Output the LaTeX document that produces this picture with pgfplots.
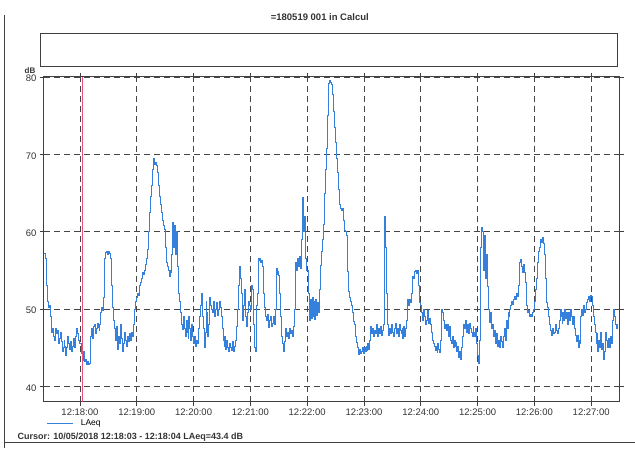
\documentclass[border=0pt]{standalone}
\usepackage{pgfplots}
\pgfplotsset{compat=1.18}
\usepackage{pgfplotstable}
\usepackage{fontspec}
\setmainfont{Liberation Sans}
\definecolor{trace}{RGB}{52,128,220}
\definecolor{cursor}{RGB}{235,80,120}
\definecolor{gridc}{RGB}{70,70,70}
\pgfplotstableread[row sep=\\]{
t L\\
-38 57.2\\ -37 56.5\\ -36 55\\ -35 53\\ -34 51\\ -33 50.2\\ -32 50.5\\ -31 49\\ -30 47\\ -29 47.5\\
-28 46.5\\ -27 46\\ -26 47.5\\ -25 46.8\\ -24 47.2\\ -23 45.5\\ -22 46.2\\ -21 47\\
-20 45.8\\ -19 44.5\\ -18 45\\ -17 46\\ -16 45.2\\ -15 44\\ -14 45\\ -13 46.5\\ -12 45.5\\ -11 44.8\\
-10 45.8\\ -9 44.5\\ -8 45.2\\ -7 46.2\\ -6 45\\ -5 46.5\\ -4 47.5\\ -3 46.8\\ -2 46\\ -1 45.5\\
0 45.5\\ 1 44.2\\ 2 45\\ 3 43.4\\ 4 44.5\\ 5 43.2\\ 6 43.5\\ 7 42.8\\ 8 43.2\\ 9 42.8\\
10 43\\ 11 46.5\\ 12 47.5\\ 13 46.2\\ 14 47.8\\ 15 48\\ 16 46.8\\ 17 47.5\\ 18 48.2\\ 19 47.6\\
20 47.2\\ 21 48\\ 22 49.5\\ 23 50.2\\ 24 49.8\\ 25 51.5\\ 26 56.5\\ 27 57.3\\ 28 57.5\\ 29 57\\
30 57.4\\ 31 57.2\\ 32 56.5\\ 33 53\\ 34 50.2\\ 35 48.5\\ 36 47.5\\ 37 46\\ 38 47.8\\ 39 45.2\\
40 44.8\\ 41 46.5\\ 42 45.5\\ 43 48\\ 44 46.2\\ 45 44.5\\ 46 45.5\\ 47 47\\ 48 46\\ 49 45.2\\
50 46.5\\ 51 45.8\\ 52 46.8\\ 53 46\\ 54 47\\ 55 46.5\\ 56 48\\ 57 50\\ 58 50.5\\ 59 51\\
60 51.5\\ 61 52\\ 62 51.8\\ 63 53\\ 64 53.5\\ 65 54\\ 66 54.7\\ 67 54.5\\ 68 55\\ 69 55.8\\
70 56.5\\ 71 57.7\\ 72 60\\ 73 62.5\\ 74 64.5\\ 75 66\\ 76 68\\ 77 68.8\\ 78 69.5\\ 79 68.7\\
80 69\\ 81 68.6\\ 82 67.6\\ 83 66\\ 84 64.5\\ 85 63.5\\ 86 62.5\\ 87 61.5\\ 88 60.8\\ 89 60.3\\
90 58\\ 91 56\\ 92 55.5\\ 93 55\\ 94 54.2\\ 95 55\\ 96 54.7\\ 97 57\\ 98 61.2\\ 99 58\\
100 60.8\\ 101 57\\ 102 60\\ 103 55.5\\ 104 52\\ 105 51\\ 106 49.5\\ 107 48\\ 108 47.4\\ 109 49\\
110 47.5\\ 111 46.5\\ 112 48.5\\ 113 47\\ 114 46.2\\ 115 49\\ 116 47.5\\ 117 46\\ 118 48\\ 119 46.5\\
120 45.5\\ 121 46.5\\ 122 45.2\\ 123 46\\ 124 45.5\\ 125 47.5\\ 126 49\\ 127 50.5\\ 128 52\\ 129 49\\
130 47.5\\ 131 45\\ 132 47\\ 133 51\\ 134 49.5\\ 135 46.5\\ 136 48\\ 137 51.5\\ 138 50.5\\ 139 50\\
140 49.5\\ 141 51\\ 142 49\\ 143 50\\ 144 50.8\\ 145 49.2\\ 146 50\\ 147 51\\ 148 50.2\\ 149 49\\
150 47.5\\ 151 46\\ 152 45.2\\ 153 46.5\\ 154 44.8\\ 155 46\\ 156 45\\ 157 44.5\\ 158 45.5\\ 159 45\\
160 44.7\\ 161 45.8\\ 162 44.5\\ 163 45.2\\ 164 46\\ 165 47.7\\ 166 50\\ 167 53\\ 168 55.5\\ 169 54\\
170 52\\ 171 50\\ 172 48.5\\ 173 50.5\\ 174 52.5\\ 175 49\\ 176 47.7\\ 177 49.5\\ 178 51\\ 179 50.5\\
180 50\\ 181 53\\ 182 52.5\\ 183 48\\ 184 45\\ 185 44.5\\ 186 50.5\\ 187 52\\ 188 56.6\\ 189 56.3\\
190 56.6\\ 191 56\\ 192 56.3\\ 193 55.5\\ 194 52\\ 195 50.2\\ 196 49\\ 197 48.5\\ 198 49.3\\ 199 47.6\\
200 48.5\\ 201 49\\ 202 47.8\\ 203 48.2\\ 204 49\\ 205 48\\ 206 50\\ 207 55.3\\ 208 54.5\\ 209 54.8\\
210 54.4\\ 211 52\\ 212 49\\ 213 46.5\\ 214 45.5\\ 215 44.5\\ 216 45.8\\ 217 47.5\\ 218 46.5\\ 219 47\\
220 46.2\\ 221 47.5\\ 222 46.8\\ 223 47.2\\ 224 46.5\\ 225 47.8\\ 226 50\\ 227 53\\ 228 56\\ 229 55\\
230 56.6\\ 231 55.5\\ 232 56.8\\ 233 55.2\\ 234 59\\ 235 64.4\\ 236 60\\ 237 62\\ 238 56.6\\ 239 55\\
240 55\\ 241 52\\ 242 48.5\\ 243 51.2\\ 244 48.8\\ 245 51.5\\ 246 49\\ 247 51\\ 248 48.6\\ 249 51.3\\
250 49.2\\ 251 50.8\\ 252 49.5\\ 253 52.5\\ 254 55.7\\ 255 57.5\\ 256 59\\ 257 60.9\\ 258 65\\ 259 68\\
260 70.8\\ 261 75\\ 262 79.2\\ 263 79.5\\ 264 79.5\\ 265 79.3\\ 266 79\\ 267 77.7\\ 268 75.5\\ 269 73.5\\
270 71.6\\ 271 69.5\\ 272 67.7\\ 273 65.5\\ 274 63.5\\ 275 63\\ 276 62.8\\ 277 63\\ 278 61.5\\ 279 60.2\\
280 60\\ 281 59.5\\ 282 54.8\\ 283 53.5\\ 284 52.3\\ 285 51.5\\ 286 51\\ 287 50.5\\ 288 49.5\\ 289 48.4\\
290 48\\ 291 46.5\\ 292 45.7\\ 293 45\\ 294 44.1\\ 295 44.8\\ 296 44.3\\ 297 44.5\\ 298 45\\ 299 44.2\\
300 45\\ 301 44.5\\ 302 45.2\\ 303 44.6\\ 304 45.5\\ 305 44.8\\ 306 46\\ 307 47.7\\ 308 46.8\\ 309 47.5\\
310 46.5\\ 311 47.2\\ 312 46.8\\ 313 48\\ 314 46.5\\ 315 47.5\\ 316 46.8\\ 317 47.8\\ 318 46.6\\ 319 47.2\\
320 48\\ 321 48.5\\ 322 62\\ 323 58\\ 324 52\\ 325 48\\ 326 46.6\\ 327 47.5\\ 328 46.8\\ 329 48\\
330 47\\ 331 46.5\\ 332 47.5\\ 333 48.2\\ 334 46.8\\ 335 47.5\\ 336 46.5\\ 337 48\\ 338 47.2\\ 339 46.8\\
340 47.5\\ 341 46.2\\ 342 47.8\\ 343 46.5\\ 344 47.5\\ 345 48.5\\ 346 51.2\\ 347 50.5\\ 348 51.2\\ 349 50.8\\
350 52\\ 351 54.2\\ 352 54\\ 353 54.8\\ 354 55\\ 355 54.6\\ 356 55\\ 357 53\\ 358 51\\ 359 50.8\\
360 50.5\\ 361 49.5\\ 362 48.5\\ 363 50\\ 364 49\\ 365 48\\ 366 48.5\\ 367 49.8\\ 368 48.2\\ 369 48.8\\
370 48\\ 371 47\\ 372 46\\ 373 45.5\\ 374 45.2\\ 375 44.6\\ 376 45.2\\ 377 44.4\\ 378 45.5\\ 379 44.8\\
380 44.4\\ 381 46\\ 382 50\\ 383 49.5\\ 384 48.5\\ 385 47.5\\ 386 48\\ 387 47.2\\ 388 48\\ 389 46.5\\
390 47.8\\ 391 46\\ 392 45.5\\ 393 46.5\\ 394 45\\ 395 46\\ 396 45.2\\ 397 45.7\\ 398 44.5\\ 399 45.2\\
400 43.8\\ 401 44.5\\ 402 43.5\\ 403 45\\ 404 46.5\\ 405 48\\ 406 47.5\\ 407 48.5\\ 408 47\\ 409 48\\
410 46.8\\ 411 48.2\\ 412 47.5\\ 413 47\\ 414 46.5\\ 415 47.8\\ 416 47\\ 417 46.5\\ 418 47.5\\ 419 45.5\\
420 44\\ 421 43\\ 422 46\\ 423 58\\ 424 60.6\\ 425 60\\ 426 55\\ 427 59.5\\ 428 54\\ 429 57\\
430 52.9\\ 431 50\\ 432 48.3\\ 433 49.5\\ 434 48.5\\ 435 47.5\\ 436 48\\ 437 46.5\\ 438 47.2\\ 439 45.5\\
440 46.8\\ 441 45.2\\ 442 46\\ 443 45\\ 444 46.5\\ 445 45.8\\ 446 45\\ 447 46.5\\ 448 47.5\\ 449 46\\
450 48.5\\ 451 47.5\\ 452 49.5\\ 453 49\\ 454 50\\ 455 50.5\\ 456 51\\ 457 50.6\\ 458 51.2\\ 459 51.6\\
460 51.3\\ 461 52\\ 462 51.6\\ 463 53\\ 464 56\\ 465 56.4\\ 466 55.5\\ 467 54.7\\ 468 55.8\\ 469 54.7\\
470 53.5\\ 471 51.2\\ 472 50.5\\ 473 49.5\\ 474 49.8\\ 475 49\\ 476 49.3\\ 477 49\\ 478 49.5\\ 479 50\\
480 51\\ 481 52.5\\ 482 54\\ 483 56\\ 484 57.5\\ 485 58\\ 486 59\\ 487 58.6\\ 488 59.2\\ 489 58.5\\
490 57.7\\ 491 57\\ 492 54\\ 493 50.8\\ 494 50.2\\ 495 49\\ 496 48\\ 497 47.2\\ 498 46.6\\ 499 47.5\\
500 46.8\\ 501 47\\ 502 48\\ 503 47.2\\ 504 46.8\\ 505 47.5\\ 506 48.5\\ 507 50\\ 508 49\\ 509 48.2\\
510 49.5\\ 511 48.5\\ 512 50\\ 513 48.8\\ 514 49.5\\ 515 48\\ 516 49.5\\ 517 48.5\\ 518 50\\ 519 49\\
520 48\\ 521 49\\ 522 47.5\\ 523 46.6\\ 524 45.8\\ 525 46.6\\ 526 45\\ 527 46\\ 528 45.5\\ 529 49\\
530 50\\ 531 49.2\\ 532 50.5\\ 533 49.5\\ 534 50\\ 535 50.8\\ 536 51.2\\ 537 51.6\\ 538 51\\ 539 51.8\\
540 51.6\\ 541 50.5\\ 542 49\\ 543 48\\ 544 47\\ 545 45.5\\ 546 46.8\\ 547 44.5\\ 548 46\\ 549 45\\
550 47\\ 551 44.8\\ 552 45.5\\ 553 43.5\\ 554 44.5\\ 555 47\\ 556 46\\ 557 45\\ 558 46.2\\ 559 45\\
560 46.5\\ 561 45.5\\ 562 48.5\\ 563 50\\ 564 49\\ 565 48.5\\ 566 48\\ 567 47.5\\ 568 48\\
}\laeq
\begin{document}
\begin{tikzpicture}[x=1pt,y=1pt]
\path (0,0) rectangle (635,448);
% page border of the scan
\draw[black!75, line width=1pt] (5,433) -- (5,0);
\draw[black!75, line width=0.8pt] (5,5) -- (635,5);
% title and empty header box
\node[font=\fontsize{9.5}{11}\selectfont\bfseries, text=black!80] at (320,431) {=180519 001 in Calcul};
\draw[black!75, line width=1pt] (41,381) rectangle (618,414);
\node[font=\fontsize{8}{9}\selectfont\bfseries, text=black!80] at (30,377) {dB};
\begin{axis}[
  at={(44pt,46pt)}, anchor=south west,
  scale only axis, width=576pt, height=325pt,
  xmin=-38, xmax=570, ymin=38, ymax=80,
  xtick={0,60,120,180,240,300,360,420,480,540},
  xticklabels={12:18:00,12:19:00,12:20:00,12:21:00,12:22:00,12:23:00,12:24:00,12:25:00,12:26:00,12:27:00},
  ytick={40,50,60,70,80},
  grid=major,
  major grid style={gridc, dash pattern=on 6pt off 4pt, line width=0.6pt},
  axis line style={black!75, line width=1pt},
  tick align=outside, major tick length=4pt,
  tick style={black!75, line width=0.6pt},
  ticklabel style={font=\fontsize{9.5}{10}\selectfont, text=black!80},
  yticklabel style={yshift=-1.5pt},
  /pgf/number format/assume math mode=true,
  xticklabel style={yshift=0pt},
  legend style={at={(0.005,-0.068)}, anchor=west, draw=none, fill=none,
    font=\fontsize{8.5}{10}\selectfont, inner sep=0pt},
  legend image code/.code={\draw[trace, line width=0.8pt] (0pt,0pt) -- (26pt,0pt);},
]
\addplot[const plot, trace, line width=0.7pt] table[x=t, y=L] {\laeq};
\addlegendentry{\hspace{5pt}LAeq}
\addplot[cursor, line width=1.1pt, forget plot] coordinates {(3,38) (3,80)};
\end{axis}
\node[anchor=west, font=\fontsize{9}{10}\selectfont\bfseries, text=black!80] at (14,11) {Cursor: 10/05/2018 12:18:03 - 12:18:04 LAeq=43.4 dB};
\end{tikzpicture}
\end{document}
